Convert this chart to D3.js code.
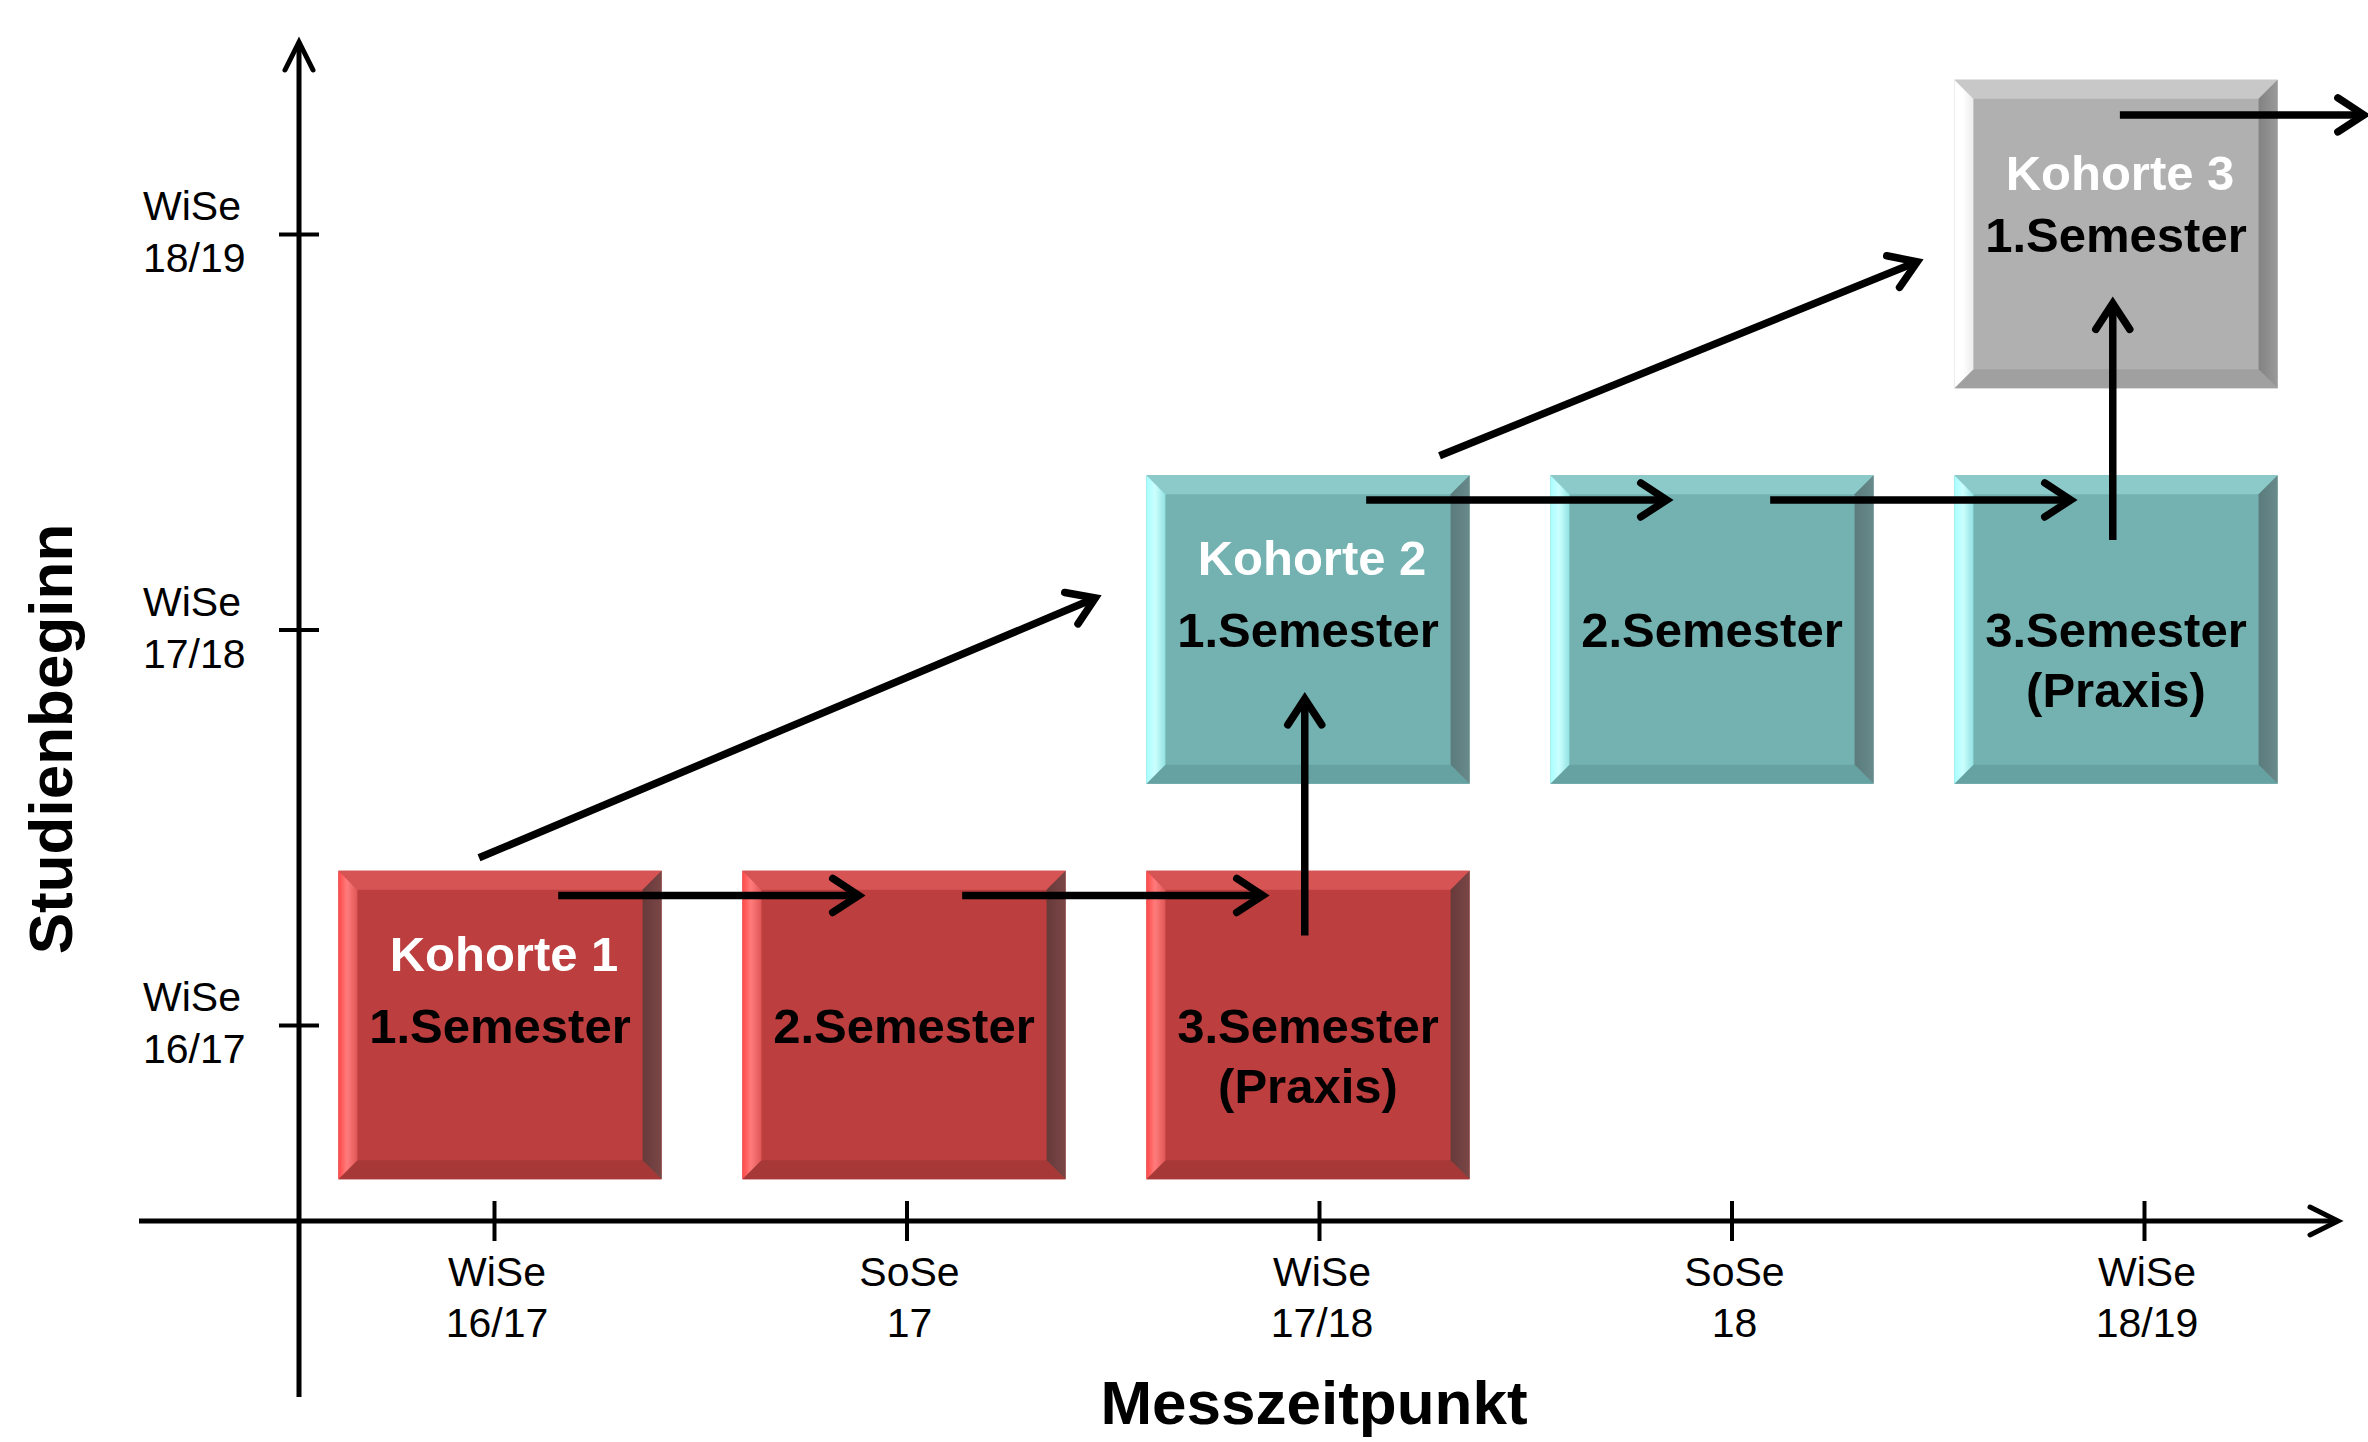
<!DOCTYPE html>
<html>
<head>
<meta charset="utf-8">
<script src="https://cdn.jsdelivr.net/npm/d3@7"></script>
<style>
  body { margin: 0; background: #fff; }
  svg { display: block; }
  text { font-family: "Liberation Sans", Arial, sans-serif; }
</style>
</head>
<body>
<svg id="chart"></svg>
<script>
const W = 2368, H = 1442;

// measurement points (x axis) and study start terms (y axis)
const timeLabels = [["WiSe", "16/17"], ["SoSe", "17"], ["WiSe", "17/18"], ["SoSe", "18"], ["WiSe", "18/19"]];
const startLabels = [["WiSe", "16/17"], ["WiSe", "17/18"], ["WiSe", "18/19"]];

// cohorts: name, index of first measurement point, number of semesters shown
const cohortNames = ["Kohorte 1", "Kohorte 2", "Kohorte 3"];
const cohortStart = [0, 2, 4];
const cohortLength = [3, 3, 1];
const semesterNames = [["1.Semester"], ["2.Semester"], ["3.Semester", "(Praxis)"]];

const xTitle = "Messzeitpunkt";
const yTitle = "Studienbeginn";

// box look per cohort
const palettes = [
  { face: "#bc3e3e", top: "#d65454", bottom: "#a63838", left: ["#ff4848", "#ff7c7c", "#e05656"], right: ["#683a3a", "#7a4646"] },
  { face: "#74b1b1", top: "#8ccaca", bottom: "#67a2a2", left: ["#a6ffff", "#ccffff", "#92e2e2"], right: ["#5b7b7c", "#688a8b"] },
  { face: "#b0b0b0", top: "#c8c8c8", bottom: "#a0a0a0", left: ["#ffffff", "#ffffff", "#ececec"], right: ["#828282", "#9a9a9a"] }
];

// where the diagonal arrows leave / reach their boxes (fractions of box size)
const diagAnchors = [
  { from: [0.435, -0.042], to: [-0.158, 0.398] },
  { from: [0.907, -0.063], to: [-0.115, 0.59] }
];

const svg = d3.select("#chart").attr("width", W).attr("height", H);
const defs = svg.append("defs");

const origin = { x: 299, y: 1221 };
const xTick = d3.scalePoint().domain(d3.range(timeLabels.length)).range([494, 2144]);
const xBox = d3.scalePoint().domain(d3.range(timeLabels.length)).range([500, 2116]);
const y = d3.scalePoint().domain(d3.range(startLabels.length)).range([1025, 234]);

const bw = xBox.step() * 0.8;
const bh = y.step() * 0.78;
const bevel = 19;

function arrow(g, x1, y1, x2, y2, width, len, half) {
  g.append("line")
    .attr("x1", x1).attr("y1", y1).attr("x2", x2).attr("y2", y2)
    .attr("stroke", "#000").attr("stroke-width", width);
  const a = Math.atan2(y2 - y1, x2 - x1);
  const p = (l, s) => [x2 - l * Math.cos(a) - s * Math.sin(a), y2 - l * Math.sin(a) + s * Math.cos(a)];
  const [ax, ay] = p(len, half), [bx, by] = p(len, -half);
  g.append("path")
    .attr("d", `M${ax},${ay}L${x2},${y2}L${bx},${by}`)
    .attr("fill", "none").attr("stroke", "#000").attr("stroke-width", width)
    .attr("stroke-linecap", "round").attr("stroke-linejoin", "miter");
}

// ---- axes ----
const axisG = svg.append("g");
arrow(axisG, origin.x, 1397, origin.x, 42, 5, 28, 14);
arrow(axisG, 139, origin.y, 2338, origin.y, 5, 28, 14);

const gx = svg.append("g")
  .attr("transform", `translate(0,${origin.y - 20})`)
  .call(d3.axisBottom(xTick).tickSize(40).tickFormat(""));
gx.select(".domain").remove();
gx.selectAll(".tick line").attr("stroke", "#000").attr("stroke-width", 4);

const gy = svg.append("g")
  .attr("transform", `translate(${origin.x + 20},0)`)
  .call(d3.axisLeft(y).tickSize(40).tickFormat(""));
gy.select(".domain").remove();
gy.selectAll(".tick line").attr("stroke", "#000").attr("stroke-width", 4);

svg.append("g").selectAll("text")
  .data(timeLabels)
  .join("text")
  .attr("text-anchor", "middle")
  .attr("font-size", 41)
  .attr("fill", "#000")
  .each(function (d, i) {
    d3.select(this).selectAll("tspan").data(d).join("tspan")
      .attr("x", xTick(i) + 3)
      .attr("y", (t, j) => 1286 + j * 51)
      .text(t => t);
  });

svg.append("g").selectAll("text")
  .data(startLabels)
  .join("text")
  .attr("text-anchor", "start")
  .attr("font-size", 41)
  .attr("fill", "#000")
  .each(function (d, i) {
    d3.select(this).selectAll("tspan").data(d).join("tspan")
      .attr("x", 143)
      .attr("y", (t, j) => y(i) - 14 + j * 52)
      .text(t => t);
  });

svg.append("text")
  .attr("x", 1314).attr("y", 1424)
  .attr("text-anchor", "middle")
  .attr("font-size", 62).attr("font-weight", "bold")
  .text(xTitle);

svg.append("text")
  .attr("transform", "translate(72,739) rotate(-90)")
  .attr("text-anchor", "middle")
  .attr("font-size", 62).attr("font-weight", "bold")
  .text(yTitle);

// ---- gradients for the bevels ----
palettes.forEach((p, i) => {
  const lg = defs.append("linearGradient").attr("id", `left${i}`).attr("x1", 0).attr("x2", 1).attr("y1", 0).attr("y2", 0);
  lg.append("stop").attr("offset", "0%").attr("stop-color", p.left[0]);
  lg.append("stop").attr("offset", "45%").attr("stop-color", p.left[1]);
  lg.append("stop").attr("offset", "100%").attr("stop-color", p.left[2]);
  const rg = defs.append("linearGradient").attr("id", `right${i}`).attr("x1", 0).attr("x2", 1).attr("y1", 0).attr("y2", 0);
  rg.append("stop").attr("offset", "0%").attr("stop-color", p.right[0]);
  rg.append("stop").attr("offset", "100%").attr("stop-color", p.right[1]);
});

// ---- cells ----
const cells = [];
cohortNames.forEach((name, c) => {
  for (let s = 0; s < cohortLength[c]; s++) {
    cells.push({ c, s, t: cohortStart[c] + s, title: s === 0 ? name : null, lines: semesterNames[s] });
  }
});
cells.forEach(d => { d.x = xBox(d.t) - bw / 2; d.y = y(d.c) - bh / 2; });

const boxG = svg.append("g").selectAll("g")
  .data(cells)
  .join("g")
  .attr("transform", d => `translate(${d.x},${d.y})`);

boxG.append("rect")
  .attr("width", bw).attr("height", bh)
  .attr("fill", d => palettes[d.c].face);

const b = bevel;
boxG.append("polygon")
  .attr("points", `0,0 ${bw},0 ${bw - b},${b} ${b},${b}`)
  .attr("fill", d => palettes[d.c].top);
boxG.append("polygon")
  .attr("points", `0,${bh} ${b},${bh - b} ${bw - b},${bh - b} ${bw},${bh}`)
  .attr("fill", d => palettes[d.c].bottom);
boxG.append("polygon")
  .attr("points", `0,0 ${b},${b} ${b},${bh - b} 0,${bh}`)
  .attr("fill", d => `url(#left${d.c})`);
boxG.append("polygon")
  .attr("points", `${bw},0 ${bw},${bh} ${bw - b},${bh - b} ${bw - b},${b}`)
  .attr("fill", d => `url(#right${d.c})`);

// the last cohort's box has only one text line below the title, so the title sits lower
boxG.filter(d => d.title)
  .append("text")
  .attr("x", bw / 2 + 4)
  .attr("y", d => cohortLength[d.c] === 1 ? 110 : 100)
  .attr("text-anchor", "middle")
  .attr("font-size", 49).attr("font-weight", "bold")
  .attr("fill", "#fff")
  .text(d => d.title);

boxG.append("text")
  .attr("text-anchor", "middle")
  .attr("font-size", 49).attr("font-weight", "bold")
  .attr("fill", "#000")
  .each(function (d) {
    d3.select(this).selectAll("tspan").data(d.lines).join("tspan")
      .attr("x", bw / 2)
      .attr("y", (t, j) => 172 + j * 60)
      .text(t => t);
  });

// ---- arrows between cells ----
const cellAt = (c, t) => cells.find(d => d.c === c && d.t === t);
const pt = (d, fx, fy) => [d.x + fx * bw, d.y + fy * bh];

const links = [];
cohortNames.forEach((name, c) => {
  const own = cells.filter(d => d.c === c);
  own.slice(1).forEach((d, i) => links.push({ a: pt(own[i], 0.68, 0.08), b: pt(d, 0.36, 0.08) }));
  if (c < cohortNames.length - 1) {
    const first = cellAt(c + 1, cohortStart[c + 1]);
    const below = cellAt(c, cohortStart[c + 1]);
    if (below) links.push({ a: pt(below, 0.49, 0.21), b: pt(first, 0.49, 0.725) });
    const da = diagAnchors[c];
    links.push({ a: pt(own[0], ...da.from), b: pt(first, ...da.to) });
  } else {
    const last = own[own.length - 1];
    links.push({ a: pt(last, 0.512, 0.114), b: pt(last, 1.267, 0.114) });
  }
});

const linkG = svg.append("g");
links.forEach(l => arrow(linkG, l.a[0], l.a[1], l.b[0], l.b[1], 7.5, 26, 17));
</script>
</body>
</html>
